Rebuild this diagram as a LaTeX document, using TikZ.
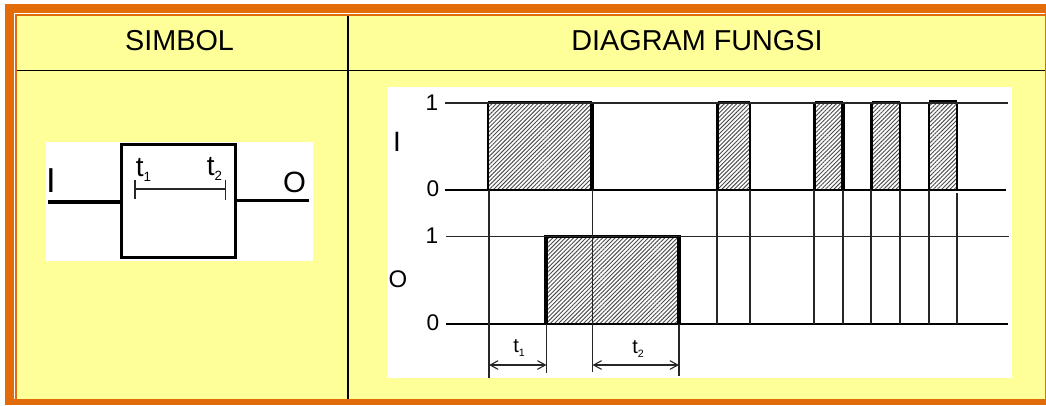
\documentclass[tikz,border=0pt]{standalone}
\usepackage{fontspec}
\setmainfont{Liberation Sans}
\usepackage{xcolor}
\usetikzlibrary{positioning,arrows.meta,patterns.meta}

\definecolor{frameorange}{HTML}{E36C0A}
\definecolor{cellyellow}{HTML}{FFFF99}
\newcommand{\tsub}[2]{t\raisebox{-0.35ex}{\fontsize{#2}{#2}\selectfont #1}}

\begin{document}
\begin{tikzpicture}[
  x=0.75pt, y=-0.75pt,
  header/.style={font=\fontsize{21.6}{24}\selectfont, inner sep=0pt},
  level/.style={font=\fontsize{17}{20}\selectfont, inner sep=0pt},
  signal/.style={font=\fontsize{21}{24}\selectfont, inner sep=0pt},
  timebig/.style={font=\fontsize{21}{23}\selectfont, inner sep=0pt},
  timesmall/.style={font=\fontsize{15}{16}\selectfont, inner sep=0pt},
  thinline/.style={line width=1pt, black!85},
  thickline/.style={line width=2pt, black},
  grid/.style={line width=1.4pt, black},
  hatch/.style={pattern={Lines[angle=45,distance=2.2pt,line width=0.7pt]}, pattern color=black!70},
  span/.style={{Straight Barb[length=6pt,width=6.5pt]}-{Straight Barb[length=6pt,width=6.5pt]}, line width=0.8pt, black!85}
]
\useasboundingbox (0,0) rectangle (1046,405);

% Frame and table
\fill[white] (0,0) rectangle (1046,405);
\fill[frameorange] (5,4) rectangle (1046,405);
\fill[white] (14,13) rectangle (1045,399);
\fill[frameorange] (15,14) rectangle (1045,399);
\fill[cellyellow] (16.5,16) rectangle (1045,399);
\coordinate (topdiv) at (348,16);
\coordinate (botdiv) at (348,399);
\coordinate (lefthead) at (16.5,70.5);
\coordinate (righthead) at (1045,70.5);
\draw[grid] (topdiv) -- (botdiv);
\draw[grid] (lefthead) -- (righthead);
\node[header] (simbol) at (179.5,41) {SIMBOL};
\node[header] (fungsi) at (697,41) {DIAGRAM FUNGSI};

% Symbol
\fill[white] (46,142) rectangle (313,261);
\node[draw, line width=2.25pt, inner sep=0pt, outer sep=0pt, anchor=north west,
  minimum width=85.5pt, minimum height=84.75pt] (delay) at (121.5,144) {};
\coordinate (inend) at (48,202);
\coordinate (outend) at (309,200.3);
\draw[line width=2.6pt] (inend) -- (delay.west |- inend);
\draw[line width=2.6pt] (delay.east |- outend) -- (outend);
\node[signal, font=\fontsize{26}{28}\selectfont] (symi) at (51,180.5) {I};
\node[signal, font=\fontsize{22}{24}\selectfont] (symo) at (294.5,182) {O};
\node[timebig] (symta) at (143.5,170) {\tsub{1}{10}};
\node[timebig] (symtb) at (214.5,169) {\tsub{2}{10}};
\coordinate (barl) at (135,189);
\coordinate (barr) at (225.5,189);
\draw[line width=1pt, black!85] (barl) -- (barr);
\draw[line width=1pt, black!85] ([yshift=6.5pt]barl) -- ([yshift=-7.5pt]barl);
\draw[line width=1pt, black!85] ([yshift=7pt]barr) -- ([yshift=-8.5pt]barr);

% Function diagram
\fill[white] (387,87) rectangle (1012,378);

% Hatched pulses
\foreach \name/\xa/\xb/\wa/\wb/\wc in {ia/488/592/1.6/1.2/2.4, ib/717.5/750/2.6/1.4/1.2, ic/814.5/843/2.6/1.6/2.6, id/871.5/900/2.2/1.6/2.2, ie/929/957/2.2/2.4/2.2} {
  \path[hatch] (\xa,103) rectangle (\xb,190);
  \draw[line width=\wa pt] (\xa,190) -- (\xa,102);
  \draw[line width=\wb pt] (\xa,102) -- (\xb,102);
  \draw[line width=\wc pt] (\xb,102) -- (\xb,190);
  \coordinate (\name l) at (\xa,190);
  \coordinate (\name r) at (\xb,190);
}
\path[hatch] (546,237) rectangle (679,324);
\draw[line width=2.3pt] (546,324) -- (546,236.5) -- (679,236.5) -- (679,324);

% Level lines
\foreach \name/\yy/\xa/\xb/\kind in {ionea/103/445/1008/thinline, izero/190/445/1006/thickline, oone/236.5/446/1009/thinline, ozero/324/446/1008/thickline} {
  \coordinate (\name s) at (\xa,\yy);
  \coordinate (\name e) at (\xb,\yy);
  \draw[\kind] (\name s) -- (\name e);
}
\node[level] (ione) at (432,103) {1};
\node[level] (izerot) at (433,189) {0};
\node[level] (oonet) at (432,236) {1};
\node[level] (ozerot) at (433,323) {0};
\node[signal] (sigi) at (397,142) {I};
\node[signal, font=\fontsize{18}{20}\selectfont] (sigo) at (398,279) {O};

% Drop lines
\foreach \xx in {717,750,814,843,871,900,929}
  \draw[thinline] (\xx,190) -- (\xx,324);
\draw[thinline] (957,193) -- (957,324);
\coordinate (ta) at (489,378);
\coordinate (tb) at (546.5,373);
\coordinate (tc) at (592.5,372);
\coordinate (td) at (679,376);
\draw[thinline] (ta |- 0,190) -- (ta);
\draw[thinline] (tb |- 0,324) -- (tb);
\draw[thinline] (tc |- 0,190) -- (tc);
\draw[thinline] (td |- 0,324) -- (td);

% Time spans
\draw[span] (ta |- 0,365) -- (tb |- 0,365);
\draw[span] (tc |- 0,365) -- (td |- 0,365);
\node[timesmall] (spana) at (519,348) {\tsub{1}{8}};
\node[timesmall] (spanb) at (638,349) {\tsub{2}{8}};
\end{tikzpicture}
\end{document}
